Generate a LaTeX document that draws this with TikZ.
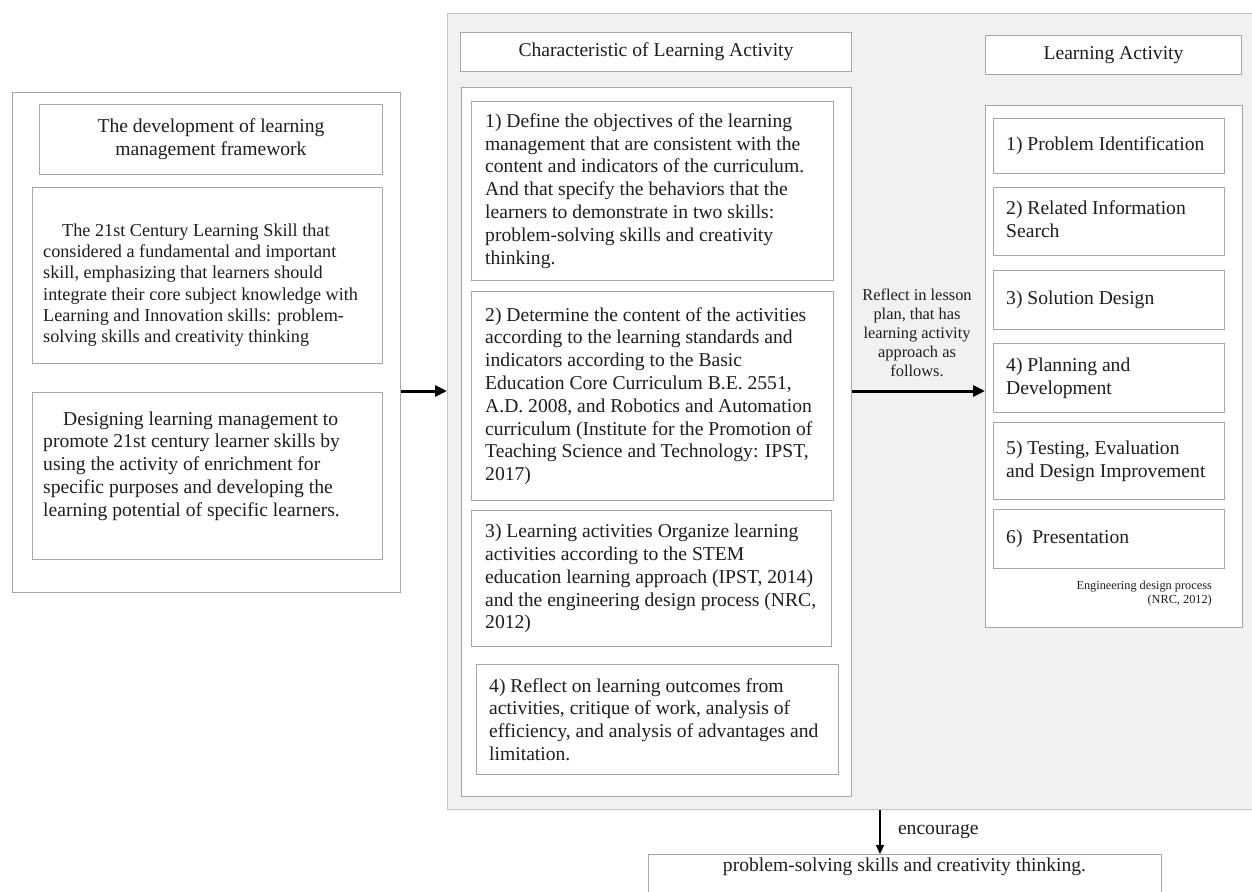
\documentclass[tikz,border=0pt]{standalone}
\usepackage{fontspec}
\setmainfont{Liberation Serif}
\usetikzlibrary{arrows.meta}
\definecolor{txt}{HTML}{1E1E1E}
\definecolor{bord}{HTML}{A6A6A6}
\definecolor{pbord}{HTML}{C4C4CC}
\definecolor{pfill}{HTML}{F1F1F1}
\newcommand\myfA{\fontsize{19.6}{22.8}\selectfont}
\newcommand\myfB{\fontsize{18.2}{21.3}\selectfont}
\newcommand\myfR{\fontsize{16.4}{19}\selectfont}
\newcommand\myfS{\fontsize{12.3}{14}\selectfont}
\begin{document}
\begin{tikzpicture}[x=1pt,y=-1pt,
  bx/.style={draw=bord, line width=1pt, fill=white, anchor=north west, inner sep=0pt},
  tx/.style={inner sep=0pt, text=txt, align=left, anchor=west, font=\myfA},
  ctx/.style={bx, text=txt, align=center, font=\myfA},
  arr/.style={line width=3pt, -{Triangle[length=12pt,width=11pt]}},
  arrb/.style={line width=2pt, -{Triangle[length=9pt,width=8pt]}}]
\useasboundingbox (0,0) rectangle (1252,891);
% grey panel
\node[bx, draw=pbord, fill=pfill, minimum width=820pt, minimum height=796pt] (panel) at (447,13) {};
% left column
\node[bx, minimum width=388pt, minimum height=500pt] (leftbox) at (12,92) {};
\node[ctx, minimum width=343pt, minimum height=70pt] (devt) at (39,104) {The development of learning\\management framework};
\node[bx, minimum width=350pt, minimum height=176pt] (skill) at (32,187) {};
\node[tx, font=\myfB] (skillt) at (43,285) {\hspace*{19pt}The 21st Century Learning Skill that\\considered a fundamental and important\\skill, emphasizing that learners should\\integrate their core subject knowledge with\\Learning and Innovation skills: problem-\\solving skills and creativity thinking};
\node[bx, minimum width=350pt, minimum height=167pt] (design) at (32,392) {};
\node[tx] (designt) at (43,466) {\hspace*{20pt}Designing learning management to\\promote 21st century learner skills by\\using the activity of enrichment for\\specific purposes and developing the\\learning potential of specific learners.};
% middle column
\node[ctx, minimum width=391pt, minimum height=39pt] (chart) at (460,32) {Characteristic of Learning Activity};
\node[bx, minimum width=390pt, minimum height=709pt] (mid) at (461,87) {};
\node[bx, minimum width=362pt, minimum height=179pt] (m1) at (471,101) {};
\node[tx] (m1t) at ([xshift=14pt]m1.west) {1) Define the objectives of the learning\\management that are consistent with the\\content and indicators of the curriculum.\\And that specify the behaviors that the\\learners to demonstrate in two skills:\\problem-solving skills and creativity\\thinking.};
\node[bx, minimum width=362pt, minimum height=209pt] (m2) at (471,291) {};
\node[tx] (m2t) at ([xshift=14pt]m2.west) {2) Determine the content of the activities\\according to the learning standards and\\indicators according to the Basic\\Education Core Curriculum B.E. 2551,\\A.D. 2008, and Robotics and Automation\\curriculum (Institute for the Promotion of\\Teaching Science and Technology: IPST,\\2017)};
\node[bx, minimum width=360pt, minimum height=136pt] (m3) at (471,510) {};
\node[tx] (m3t) at ([xshift=14pt]m3.west) {3) Learning activities Organize learning\\activities according to the STEM\\education learning approach (IPST, 2014)\\and the engineering design process (NRC,\\2012)};
\node[bx, minimum width=362pt, minimum height=110pt] (m4) at (476,664) {};
\node[tx] (m4t) at ([xshift=13pt]m4.west) {4) Reflect on learning outcomes from\\activities, critique of work, analysis of\\efficiency, and analysis of advantages and\\limitation.};
% right column
\node[ctx, minimum width=256pt, minimum height=39pt] (lat) at (985,35) {Learning Activity};
\node[bx, minimum width=257pt, minimum height=522pt] (rc) at (985,105) {};
\node[bx, minimum width=231pt, minimum height=55pt] (r1) at (993,118) {};
\node[tx] (r1t) at ([xshift=13pt]r1.west) {1) Problem Identification};
\node[bx, minimum width=231pt, minimum height=68pt] (r2) at (993,187) {};
\node[tx] (r2t) at ([xshift=13pt,yshift=2pt]r2.west) {2) Related Information\\Search};
\node[bx, minimum width=231pt, minimum height=59pt] (r3) at (993,270) {};
\node[tx] (r3t) at ([xshift=13pt]r3.west) {3) Solution Design};
\node[bx, minimum width=231pt, minimum height=69pt] (r4) at (993,343) {};
\node[tx] (r4t) at ([xshift=13pt]r4.west) {4) Planning and\\Development};
\node[bx, minimum width=231pt, minimum height=77pt] (r5) at (993,422) {};
\node[tx] (r5t) at ([xshift=13pt]r5.west) {5) Testing, Evaluation\\and Design Improvement};
\node[bx, minimum width=231pt, minimum height=59pt] (r6) at (993,509) {};
\node[tx] (r6t) at ([xshift=13pt]r6.west) {6)\ \ Presentation};
\node[tx, anchor=east, align=right, font=\myfS] (src) at (1212,594) {Engineering design process\\(NRC, 2012)};
% reflect label
\node[inner sep=0pt, text=txt, align=center, font=\myfR] (refl) at (917,333) {Reflect in lesson\\plan, that has\\learning activity\\approach as\\follows.};
% bottom goal
\node[bx, minimum width=513pt, minimum height=50pt] (goal) at (648,854) {};
\node[inner sep=0pt, text=txt, font=\myfA] (goalt) at (904.5,867) {problem-solving skills and creativity thinking.};
% connectors
\coordinate (ay) at (0,391);
\coordinate (ax) at (880,0);
\draw[arr] (leftbox.east |- ay) -- (panel.west |- ay);
\draw[arr] (mid.east |- ay) -- (rc.west |- ay);
\draw[arrb] (panel.south -| ax) -- node[right=17pt, inner sep=0pt, text=txt, font=\myfA] (enc) {encourage} (goal.north -| ax);
\end{tikzpicture}
\end{document}
